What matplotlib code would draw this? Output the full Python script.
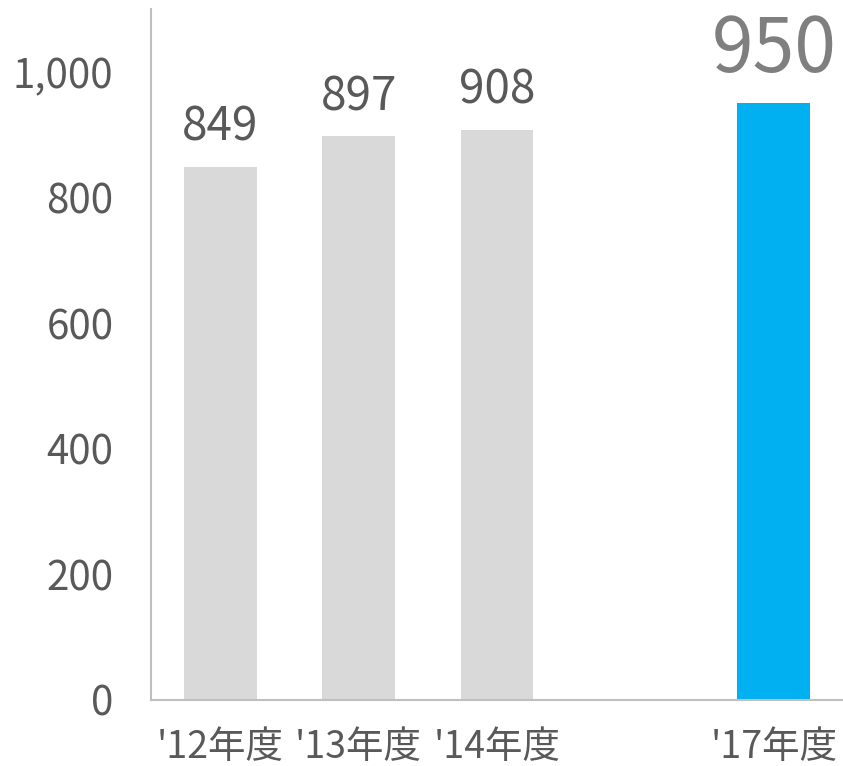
import numpy as np
import matplotlib
matplotlib.use("Agg")
import matplotlib.pyplot as plt

plt.rcParams['font.family'] = ['Noto Sans CJK JP', 'DejaVu Sans']

# data
categories = ["'12年度", "'13年度", "'14年度", "", "'17年度"]
values = [849, 897, 908, np.nan, 950]
bar_colors = ['#d9d9d9', '#d9d9d9', '#d9d9d9', '#d9d9d9', '#00b0f0']
y_ticks = [0, 200, 400, 600, 800, 1000]

fig = plt.figure(figsize=(8.43, 7.66), dpi=100)
ax = fig.add_axes([0.1791, 0.0862, 0.8209, 0.9021])

x = np.arange(len(categories))
ax.bar(x, values, width=0.525, color=bar_colors)

# value labels
for i, v in enumerate(values):
    if np.isnan(v):
        continue
    if i == len(values) - 1:
        ax.annotate(f"{v:.0f}", (x[i], v), xytext=(0, 10), textcoords='offset points',
                    ha='center', va='bottom', fontsize=54, color='#7f7f7f')
    else:
        ax.annotate(f"{v:.0f}", (x[i], v), xytext=(0, 11), textcoords='offset points',
                    ha='center', va='bottom', fontsize=33, color='#595959')

ax.set_xlim(-0.5, 4.5)
ax.set_ylim(0, 1100)
ax.set_yticks(y_ticks)
ax.set_yticklabels([f"{t:,}" for t in y_ticks])
ax.set_xticks(x)
ax.set_xticklabels(categories)

ax.tick_params(axis='y', length=0, pad=27, labelsize=29, labelcolor='#595959')
ax.tick_params(axis='x', length=0, pad=20, labelsize=27, labelcolor='#595959')

for side in ['top', 'right']:
    ax.spines[side].set_visible(False)
for side in ['left', 'bottom']:
    ax.spines[side].set_color('#bfbfbf')
    ax.spines[side].set_linewidth(1.5)

fig.savefig('out.png', dpi=100)
